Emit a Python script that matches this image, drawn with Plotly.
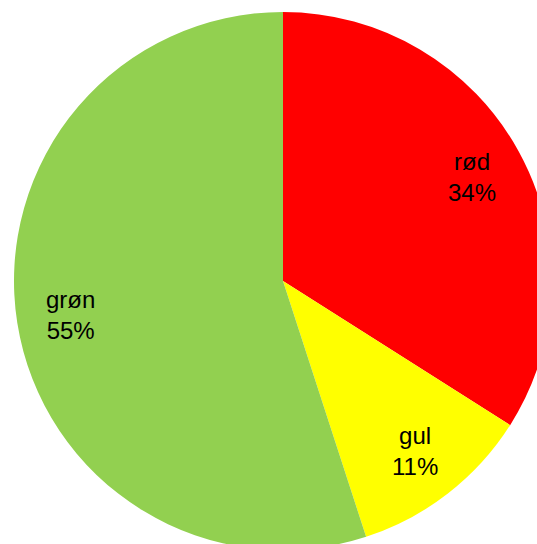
import numpy as np
import plotly.graph_objects as go

labels = ["rød", "gul", "grøn"]
values = [34, 11, 55]
colors = ["#FF0000", "#FFFF00", "#92D050"]

fig = go.Figure()
fig.add_trace(go.Pie(
    labels=labels, values=values,
    marker=dict(colors=colors, line=dict(width=0)),
    sort=False, direction="clockwise", rotation=0,
    textinfo="none",
    showlegend=False, hoverinfo="label+percent",
))

# data labels sit further out than plotly puts them, so place them on the slice bisectors
vals = np.array(values, dtype=float)
frac = vals / vals.sum()
mid = (np.cumsum(frac) - frac / 2) * 2 * np.pi
r_lab = 0.4
for lab, f, a in zip(labels, frac, mid):
    fig.add_annotation(
        x=0.5 + r_lab * np.sin(a), y=0.5 + r_lab * np.cos(a),
        xref="paper", yref="paper", xanchor="center", yanchor="middle",
        text=f"{lab}<br>{f:.0%}", showarrow=False,
        font=dict(family="Liberation Sans, Arial", size=24, color="black"),
    )

# figure is a bit larger than the window so the pie gets clipped like the reference
fig.update_layout(
    width=552, height=550,
    margin=dict(l=14, r=0, t=12, b=0),
    paper_bgcolor="white", plot_bgcolor="white",
)

fig.write_html("out.html", config={"displayModeBar": False},
               post_script="document.body.style.margin='0';document.body.style.overflow='hidden';")
